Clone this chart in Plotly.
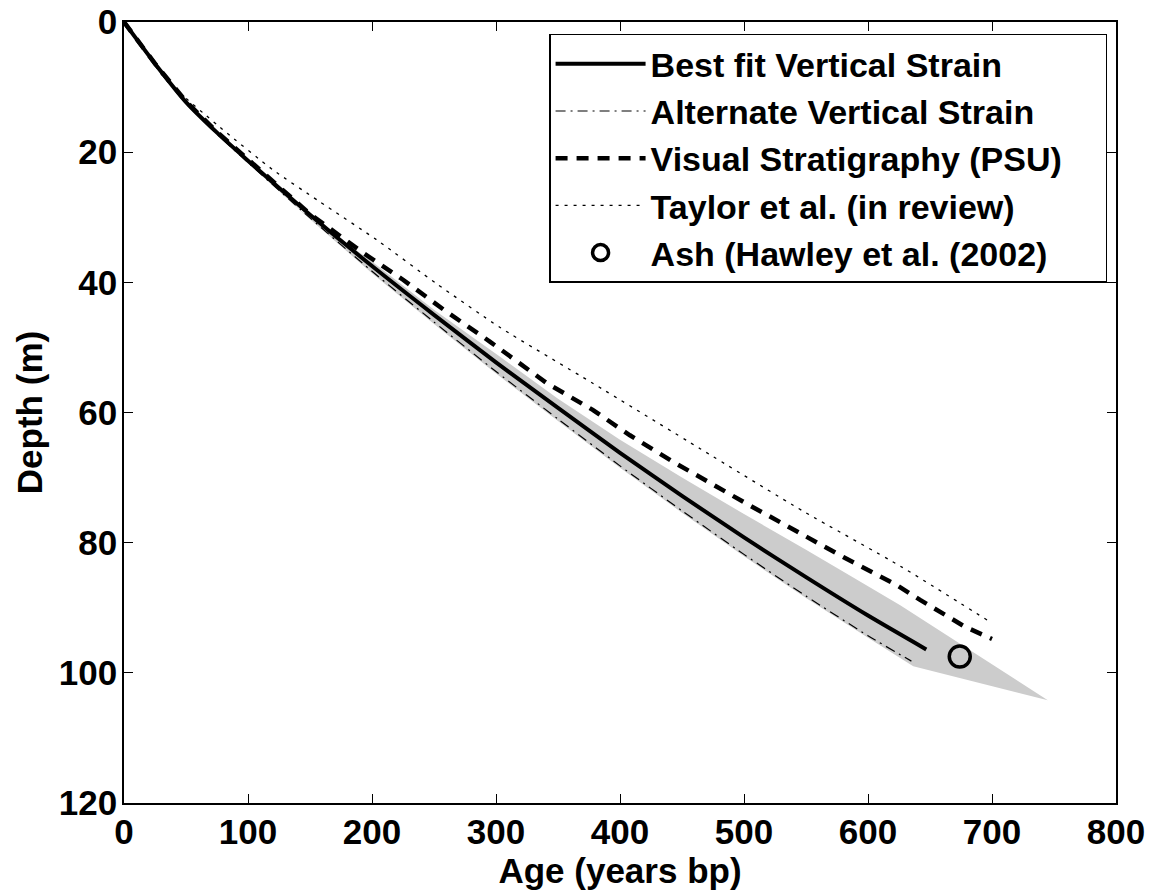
import plotly.graph_objects as go

# ---- data ----
best_age = [0, 10, 25, 50, 75, 100, 150, 200, 250, 300, 350, 400, 450, 500, 550, 600, 647]
best_depth = [0, 2.6, 6.4, 12.3, 17.0, 21.3, 29.6, 37.5, 45.0, 52.3, 59.3, 66.2, 72.8, 79.2, 85.3, 91.2, 96.4]

alt_age = [0, 10, 25, 50, 75, 100, 150, 200, 250, 300, 350, 400, 450, 500, 550, 600, 635]
alt_depth = [0, 2.6, 6.4, 12.4, 17.2, 21.6, 30.1, 38.3, 46.1, 53.7, 61.0, 68.2, 75.1, 81.8, 88.2, 94.3, 98.2]

psu_age = [0, 25, 50, 75, 100, 125, 150, 193, 225, 260, 295, 341, 378, 408, 443, 502, 542, 580, 623, 642, 678, 700]
psu_depth = [0, 6.4, 12.2, 16.9, 21.1, 25.3, 29.5, 35.5, 39.6, 44.5, 49.1, 55.5, 59.6, 63.5, 67.6, 74.0, 78.3, 82.2, 86.5, 88.8, 92.9, 94.8]

taylor_age = [0, 10, 34, 77, 120, 157, 204, 252, 303, 378, 465, 548, 626, 697]
taylor_depth = [0, 2.7, 8.9, 16.1, 22.7, 27.5, 33.5, 40.2, 46.9, 55.5, 65.6, 75.2, 83.6, 92.0]

ash_age = [674]
ash_depth = [97.5]

band_upper_age = [0, 50, 100, 142, 200, 250, 303, 350, 400, 450, 500, 550, 585, 626, 745]
band_upper_depth = [0, 12.2, 21.0, 28.9, 36.8, 44.2, 51.4, 57.9, 64.2, 70.0, 75.6, 81.1, 85.0, 89.6, 104.2]
band_lower_age = [636.5, 600, 550, 500, 450, 400, 350, 300, 250, 200, 150, 100, 50, 0]
band_lower_depth = [99.0, 94.6, 88.5, 82.1, 75.4, 68.5, 61.3, 54.0, 46.4, 38.6, 30.3, 21.7, 12.4, 0]

x_ticks = [0, 100, 200, 300, 400, 500, 600, 700, 800]
y_ticks = [0, 20, 40, 60, 80, 100, 120]

series_names = [
    "Best fit Vertical Strain",
    "Alternate Vertical Strain",
    "Visual Stratigraphy (PSU)",
    "Taylor et al. (in review)",
    "Ash (Hawley et al. (2002)",
]

FONT = "Liberation Sans, Arial, sans-serif"
AX_SIZE = 35
LEG_SIZE = 34
PAD = "\u00a0" * 4  # right padding inside the legend box

fig = go.Figure()

fig.add_trace(go.Scatter(
    x=band_upper_age + band_lower_age,
    y=band_upper_depth + band_lower_depth,
    fill="toself", fillcolor="#cccccc", mode="none",
    line=dict(width=0), showlegend=False, hoverinfo="skip"))

fig.add_trace(go.Scatter(
    x=best_age, y=best_depth, mode="lines", name=series_names[0],
    line=dict(color="black", width=4, shape="spline", smoothing=0.6)))

fig.add_trace(go.Scatter(
    x=alt_age, y=alt_depth, mode="lines", name=series_names[1],
    line=dict(color="black", width=1.2, dash="10px,5px,2px,5px", shape="spline", smoothing=0.6)))

fig.add_trace(go.Scatter(
    x=psu_age, y=psu_depth, mode="lines", name=series_names[2] + PAD,
    line=dict(color="black", width=4.5, dash="12px,9px")))

fig.add_trace(go.Scatter(
    x=taylor_age, y=taylor_depth, mode="lines", name=series_names[3],
    line=dict(color="black", width=1.3, dash="3px,6px", shape="spline", smoothing=0.6)))

fig.add_trace(go.Scatter(
    x=ash_age, y=ash_depth, mode="markers", name=series_names[4],
    marker=dict(symbol="circle-open", size=21, color="black", line=dict(width=3.5, color="black"))))

axis_common = dict(
    showline=True, linecolor="black", linewidth=1.5, mirror="ticks",
    ticks="inside", ticklen=9, tickwidth=1.2, tickcolor="black",
    showgrid=False, zeroline=False,
    tickfont=dict(family=FONT, size=AX_SIZE, color="black", weight="bold"),
)

fig.update_xaxes(
    range=[0, 800], tickvals=x_ticks, ticktext=[str(v) for v in x_ticks],
    ticklabelstandoff=-3,
    title=dict(text="Age (years bp)", font=dict(family=FONT, size=AX_SIZE, color="black", weight="bold"), standoff=0),
    **axis_common)
fig.update_yaxes(
    range=[120, 0], tickvals=y_ticks, ticktext=[str(v) for v in y_ticks],
    ticklabelstandoff=-2,
    title=dict(text="Depth (m)", font=dict(family=FONT, size=AX_SIZE, color="black", weight="bold"), standoff=6),
    **axis_common)

fig.update_layout(
    width=1149, height=890,
    margin=dict(l=124, r=33, t=22, b=87, autoexpand=False),
    plot_bgcolor="white", paper_bgcolor="white",
    font=dict(family=FONT, size=AX_SIZE, color="black", weight="bold"),
    legend=dict(
        x=0.991, y=0.985, xanchor="right", yanchor="top",
        bgcolor="white", bordercolor="black", borderwidth=1.5,
        font=dict(family=FONT, size=LEG_SIZE, color="black", weight="bold"),
        itemwidth=90, tracegroupgap=0),
)

fig.write_html("out.html")
